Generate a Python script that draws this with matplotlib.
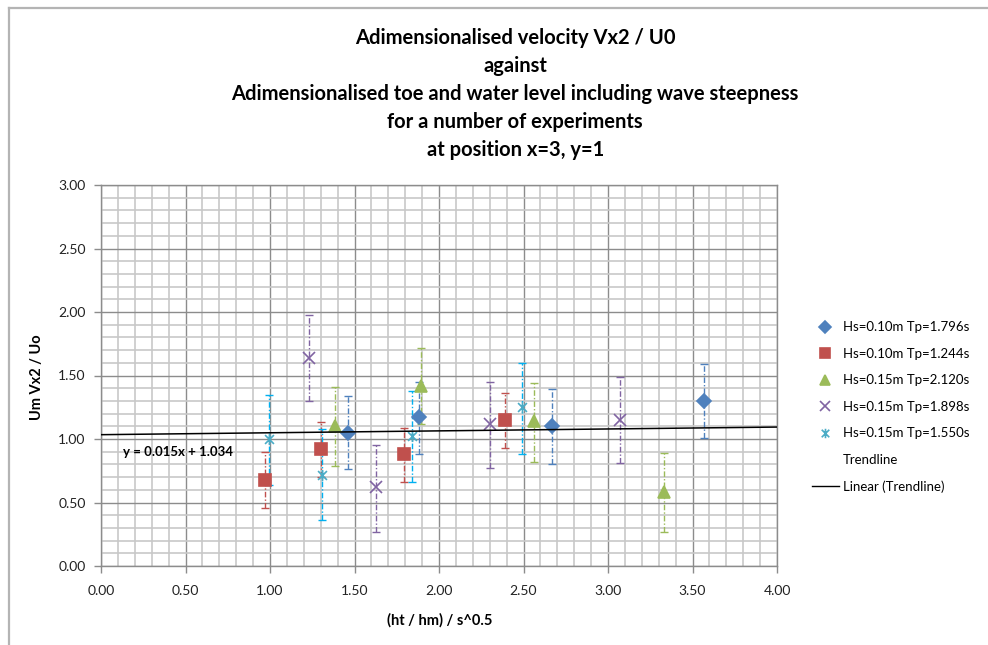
import matplotlib
matplotlib.use("Agg")
import matplotlib.pyplot as plt
from matplotlib.path import Path
from matplotlib.lines import Line2D
import numpy as np

plt.rcParams['font.family'] = ['Lato', 'DejaVu Sans']

# series data: x, y, lower / upper end of error bar
labels = ["Hs=0.10m Tp=1.796s", "Hs=0.10m Tp=1.244s", "Hs=0.15m Tp=2.120s",
          "Hs=0.15m Tp=1.898s", "Hs=0.15m Tp=1.550s"]

x1 = [1.46, 1.88, 2.67, 3.57]
y1 = [1.05, 1.17, 1.10, 1.30]
lo1 = [0.76, 0.88, 0.80, 1.01]
hi1 = [1.34, 1.45, 1.39, 1.59]

x2 = [0.97, 1.30, 1.79, 2.39]
y2 = [0.68, 0.92, 0.88, 1.15]
lo2 = [0.46, 0.70, 0.66, 0.93]
hi2 = [0.90, 1.13, 1.09, 1.36]

x3 = [1.385, 1.895, 2.56, 3.33]
y3 = [1.10, 1.42, 1.14, 0.58]
lo3 = [0.79, 1.12, 0.82, 0.27]
hi3 = [1.41, 1.72, 1.44, 0.89]

x4 = [1.23, 1.625, 2.30, 3.07]
y4 = [1.64, 0.62, 1.12, 1.15]
lo4 = [1.30, 0.27, 0.77, 0.81]
hi4 = [1.98, 0.95, 1.45, 1.49]

x5 = [0.995, 1.305, 1.84, 2.49]
y5 = [1.00, 0.72, 1.02, 1.25]
lo5 = [0.64, 0.36, 0.66, 0.88]
hi5 = [1.35, 1.08, 1.38, 1.60]

trend_slope = 0.015
trend_icept = 1.034

xticks = [0.0, 0.5, 1.0, 1.5, 2.0, 2.5, 3.0, 3.5, 4.0]
yticks = [0.0, 0.5, 1.0, 1.5, 2.0, 2.5, 3.0]

# excel style asterisk marker
star = Path([(-1, -1), (1, 1), (-1, 1), (1, -1), (0, -1.25), (0, 1.25)],
            [Path.MOVETO, Path.LINETO, Path.MOVETO, Path.LINETO, Path.MOVETO, Path.LINETO])

styles = [
    dict(marker='D', color='#4F81BD', ecolor='#4F81BD', ms=7),
    dict(marker='s', color='#C0504D', ecolor='#C0504D', ms=8.5),
    dict(marker='^', color='#9BBB59', ecolor='#9BBB59', ms=8),
    dict(marker='x', color='#8064A2', ecolor='#8064A2', ms=8),
    dict(marker=star, color='#4BACC6', ecolor='#00B0F0', ms=8),
]
series = [(x1, y1, lo1, hi1), (x2, y2, lo2, hi2), (x3, y3, lo3, hi3),
          (x4, y4, lo4, hi4), (x5, y5, lo5, hi5)]

fig = plt.figure(figsize=(9.88, 6.45), dpi=100)
ax = fig.add_axes([101/988, 1 - 566/645, 676/988, 381/645])

handles = []
for (xs, ys, lo, hi), lab, st in zip(series, labels, styles):
    ys = np.array(ys)
    yerr = [ys - np.array(lo), np.array(hi) - ys]
    eb = ax.errorbar(xs, ys, yerr=yerr, fmt='none', ecolor=st['ecolor'],
                     elinewidth=1, capsize=3, capthick=1, zorder=3)
    eb[2][0].set_linestyle((0, (4, 1.5, 1, 1.5)))
    ax.plot(xs, ys, linestyle='none', marker=st['marker'], color=st['color'],
            ms=st['ms'], mew=1.2, zorder=4)
    handles.append(Line2D([], [], linestyle='none', marker=st['marker'],
                          color=st['color'], ms=st['ms'] * 0.85, mew=1.2))

tx = np.array([0.0, 4.0])
ax.plot(tx, trend_slope * tx + trend_icept, color='black', lw=1.1, zorder=5)
ax.text(0.13, 0.895, "y = 0.015x + 1.034", fontsize=9.5, fontweight='bold',
        va='center', ha='left')

ax.set_xlim(0, 4)
ax.set_ylim(0, 3)
ax.set_xticks(xticks)
ax.set_yticks(yticks)
ax.set_xticks(np.arange(0, 4.01, 0.1), minor=True)
ax.set_yticks(np.arange(0, 3.01, 0.1), minor=True)
ax.set_xticklabels([f"{v:.2f}" for v in xticks])
ax.set_yticklabels([f"{v:.2f}" for v in yticks])
ax.grid(which='major', color='#8c8c8c', lw=1.0, zorder=0)
ax.grid(which='minor', color='#c8c8c8', lw=1.2, zorder=0)
ax.set_axisbelow(True)
ax.tick_params(which='major', length=5, width=1, color='#8c8c8c',
               labelsize=10, pad=6, labelcolor='#222222')
ax.tick_params(axis='x', pad=9)
ax.tick_params(which='minor', length=0)
for s in ax.spines.values():
    s.set_color('#8c8c8c')
    s.set_linewidth(1)

fig.text(0.5215, 1 - 94/645,
         "Adimensionalised velocity Vx2 / U0\nagainst\n"
         "Adimensionalised toe and water level including wave steepness\n"
         "for a number of experiments\nat position x=3, y=1",
         ha='center', va='center', fontsize=14.5, fontweight='bold',
         linespacing=1.5)
fig.text(37/988, 1 - 377/645, "Um Vx2 / Uo", rotation=90, ha='center',
         va='center', fontsize=10.5, fontweight='bold')
fig.text(440/988, 1 - 620/645, "(ht / hm) / s^0.5", ha='center', va='center',
         fontsize=10.5, fontweight='bold')

handles.append(Line2D([], [], linestyle='none'))
handles.append(Line2D([], [], color='black', lw=1))
leg_labels = labels + ["Trendline", "Linear (Trendline)"]
fig.legend(handles, leg_labels, loc='upper left',
           bbox_to_anchor=(807/988, 1 - 316/645), frameon=False,
           fontsize=9.5, handlelength=2.0, handletextpad=0.3,
           labelspacing=1.1, borderaxespad=0)

# chart area border (top and left edges visible)
fig.add_artist(Line2D([9/988, 1.0], [1 - 8/645, 1 - 8/645], color='#b4b4b4',
                      lw=1.6, transform=fig.transFigure))
fig.add_artist(Line2D([9/988, 9/988], [0.0, 1 - 8/645], color='#b4b4b4',
                      lw=1.6, transform=fig.transFigure))

fig.savefig("out.png", dpi=100)
